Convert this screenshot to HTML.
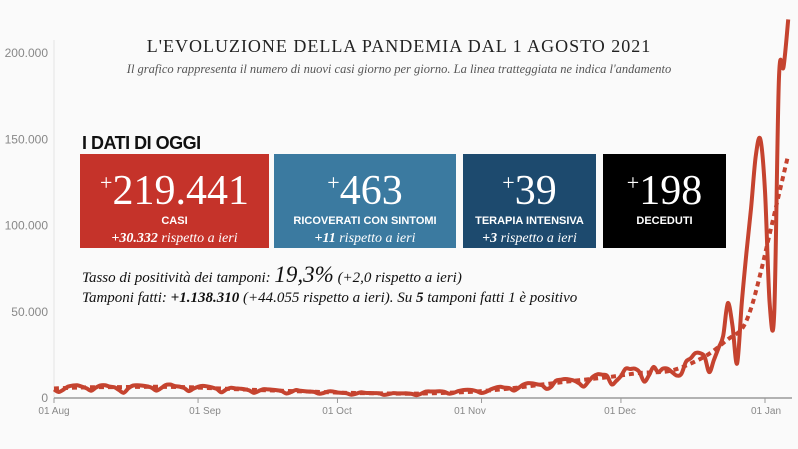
<!DOCTYPE html>
<html><head><meta charset="utf-8">
<style>
body{margin:0;background:#fafafa;width:798px;height:449px;overflow:hidden;position:relative;font-family:"Liberation Sans",sans-serif}
svg{position:absolute;left:0;top:0}
.ov{position:absolute}
.title{left:0;width:798px;top:36px;text-align:center;font-family:"Liberation Serif",serif;font-size:18px;letter-spacing:1px;color:#222}
.sub{left:0;width:798px;top:62px;text-align:center;font-family:"Liberation Serif",serif;font-style:italic;font-size:12.5px;color:#555}
.head{left:82px;top:133px;font-weight:bold;font-size:18px;color:#111;letter-spacing:-0.5px}
.box{top:154px;height:94px;color:#fff;text-align:center}
.big{font-family:"Liberation Serif",serif;font-size:42px;line-height:42px;margin-top:8px}
.big small{font-size:22px;vertical-align:14px}
.lbl{font-weight:bold;font-size:11px;margin-top:3px}
.cmp{font-family:"Liberation Serif",serif;font-style:italic;font-size:14px;margin-top:4px}
.txt{left:82px;font-family:"Liberation Serif",serif;font-style:italic;font-size:15px;color:#111}
</style></head><body>
<svg id="chart" width="798" height="449"></svg>
<div class="ov title">L'EVOLUZIONE DELLA PANDEMIA DAL 1 AGOSTO 2021</div>
<div class="ov sub">Il grafico rappresenta il numero di nuovi casi giorno per giorno. La linea tratteggiata ne indica l'andamento</div>
<div class="ov head">I DATI DI OGGI</div>
<div class="ov box" style="left:80px;width:189px;background:#c5332a">
<div class="big"><small>+</small>219.441</div><div class="lbl">CASI</div><div class="cmp"><b>+30.332</b> rispetto a ieri</div></div>
<div class="ov box" style="left:274px;width:182px;background:#3b7aa0">
<div class="big"><small>+</small>463</div><div class="lbl">RICOVERATI CON SINTOMI</div><div class="cmp"><b>+11</b> rispetto a ieri</div></div>
<div class="ov box" style="left:463px;width:133px;background:#1d4a6e">
<div class="big"><small>+</small>39</div><div class="lbl">TERAPIA INTENSIVA</div><div class="cmp"><b>+3</b> rispetto a ieri</div></div>
<div class="ov box" style="left:603px;width:123px;background:#000">
<div class="big"><small>+</small>198</div><div class="lbl">DECEDUTI</div></div>
<div class="ov txt" style="top:262px">Tasso di positività dei tamponi: <span style="font-size:23px;font-weight:normal">19,3%</span> (+2,0 rispetto a ieri)</div>
<div class="ov txt" style="top:290px">Tamponi fatti: <b>+1.138.310</b> (+44.055 rispetto a ieri). Su <b>5</b> tamponi fatti 1 è positivo</div>
<script>
const daily=[5000,3500,4800,6600,7200,7400,6600,5600,4200,6000,7300,7400,6600,6200,4600,3000,5600,7200,7400,7200,6800,6000,4300,5600,7500,7800,6900,6600,5800,4000,5400,
6500,7000,6700,6100,5300,3300,4800,5900,5600,5400,5100,4400,3000,4000,5100,5000,4800,4500,4000,2600,3400,4600,4200,3900,3700,3500,2500,2900,3800,3800,
3200,3000,2700,1900,2500,3300,3000,2900,2800,2700,1800,2200,2800,2700,2700,2700,2400,1600,2500,3700,3800,3800,3900,3600,2500,3000,4000,4600,4800,4600,3900,
2900,3600,5000,6000,6500,6000,5700,4300,5900,7800,8600,8500,7900,7400,5300,6500,10000,10600,11000,10700,10000,8500,6600,9500,12400,13800,13500,12900,7900,9900,
12700,17000,16800,17000,15000,9500,13000,18000,15000,17000,17000,15000,13000,14000,21000,23000,26000,26000,24000,15000,22000,29000,36000,55000,42000,20000,55000,84000,110000,140000,150000,
120000,55000,50000,185000,192000,219441];
const trendDays=[0,7,14,21,28,35,42,49,56,63,70,77,84,91,98,105,112,119,126,133,140,145,148,150,152,154,156,158];
const trendVals=[5500,6200,6300,6500,6300,5600,4800,4200,3600,3000,2700,2500,3000,3800,5500,7800,10000,12000,14500,16000,24000,34000,40000,52000,72000,95000,118000,141000];
const yTicks=[0,50000,100000,150000,200000];
const yLabels=["0","50.000","100.000","150.000","200.000"];
const xTickDays=[0,31,61,92,122,153];
const xLabels=["01 Aug","01 Sep","01 Oct","01 Nov","01 Dec","01 Jan"];
const NS="http://www.w3.org/2000/svg";
const svg=document.getElementById('chart');
const X=d=>54+d*4.647, Y=v=>398-v/200000*345;
function mk(t,a){const e=document.createElementNS(NS,t);for(const k in a)e.setAttribute(k,a[k]);svg.appendChild(e);return e;}
let e=mk('line',{x1:54,y1:40,x2:54,y2:398,stroke:'#e4e4e4'});


e=mk('line',{x1:54,y1:398,x2:792,y2:398,stroke:'#999','stroke-width':1.5});


yTicks.forEach((v,i)=>{const t=mk('text',{x:48,y:Y(v)+4,'text-anchor':'end','font-size':12,fill:'#888','font-family':'Liberation Sans'});t.textContent=yLabels[i];

});
const labelX=[54,205,337,470,620,766];
xTickDays.forEach((d,i)=>{const l=mk('line',{x1:X(d),y1:398,x2:X(d),y2:403,stroke:'#999'});


const t=mk('text',{x:labelX[i],y:414,'text-anchor':'middle','font-size':10,fill:'#888','font-family':'Liberation Sans'});t.textContent=xLabels[i];

});
function smooth(pts){let d='M'+pts[0][0]+','+pts[0][1];for(let i=0;i<pts.length-1;i++){const p0=pts[i-1]||pts[i],p1=pts[i],p2=pts[i+1],p3=pts[i+2]||p2;
d+=' C'+(p1[0]+(p2[0]-p0[0])/6)+','+(p1[1]+(p2[1]-p0[1])/6)+' '+(p2[0]-(p3[0]-p1[0])/6)+','+(p2[1]-(p3[1]-p1[1])/6)+' '+p2[0]+','+p2[1];}return d;}
const tr=mk('path',{d:smooth(trendDays.map((d,i)=>[X(d),Y(trendVals[i])])),fill:'none',stroke:'#c5432f','stroke-width':4,'stroke-dasharray':'5 4'});


const ln=mk('path',{d:smooth(daily.map((v,i)=>[X(i),Y(v)])),fill:'none',stroke:'#c5432f','stroke-width':4,'stroke-linejoin':'round'});


</script>
</body></html>
